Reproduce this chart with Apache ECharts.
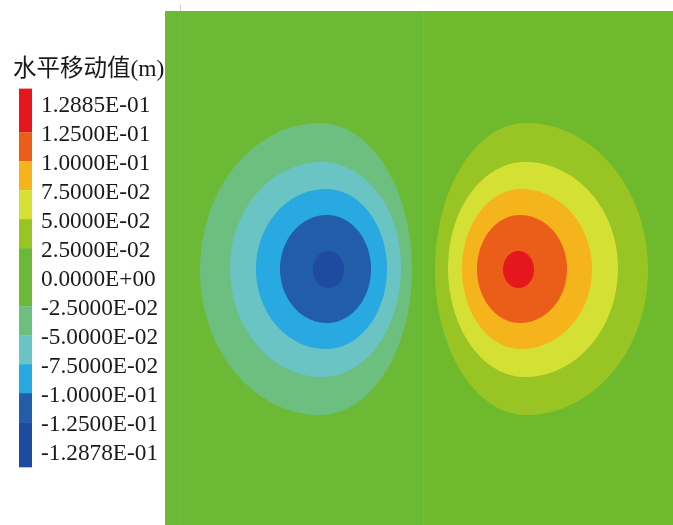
<!DOCTYPE html>
<html><head><meta charset="utf-8">
<script src="https://cdn.jsdelivr.net/npm/echarts@6/dist/echarts.min.js"></script>
<style>html,body{margin:0;padding:0;background:#fff}#c{width:673px;height:525px}</style>
</head><body><div id="c"></div>
<script>
// ---- data ----
const titleText = '水平移动值(m)';
const legendLabels = ['1.2885E-01','1.2500E-01','1.0000E-01','7.5000E-02','5.0000E-02','2.5000E-02','0.0000E+00',
  '-2.5000E-02','-5.0000E-02','-7.5000E-02','-1.0000E-01','-1.2500E-01','-1.2878E-01'];
const legendValues = [0.12885,0.125,0.1,0.075,0.05,0.025,0,-0.025,-0.05,-0.075,-0.1,-0.125,-0.12878];
// colour bands (high, low)
const bandHigh = [0.12885,0.125,0.1,0.075,0.05,0.025,-0.025,-0.05,-0.075,-0.1,-0.125];
const bandLow  = [0.125,0.1,0.075,0.05,0.025,-0.025,-0.05,-0.075,-0.1,-0.125,-0.12878];
// the model's two halves (x extents, in model units 0..100)
const panelStart = [0, 50.8];
const panelEnd   = [50.8, 100];
// contour lines: level, x of left extreme, x of top/bottom extreme, x of right extreme,
// y of bottom extreme, y of left/right extreme, y of top extreme (model units 0..100)
const contourLevel  = [-0.025,-0.05,-0.075,-0.1,-0.125, 0.025,0.05,0.075,0.1,0.125];
const contourLeft   = [6.89,12.80,17.91,22.64,29.13, 53.15,55.71,58.46,61.42,66.54];
const contourPeakX  = [30.51,30.91,31.69,31.89,32.19, 71.06,70.86,70.08,69.88,69.59];
const contourRight  = [48.62,46.46,43.70,40.55,35.24, 95.08,89.17,84.06,79.13,72.64];
const contourBottom = [21.40,28.79,34.24,39.30,46.11, 21.40,28.79,34.24,39.30,46.11];
const contourMidY   = [49.61,50.00,49.81,49.81,49.71, 49.61,50.00,49.81,49.81,49.71];
const contourTop    = [78.21,70.62,65.37,60.31,53.31, 78.21,70.62,65.37,60.31,53.31];

// ---- styling ----
const bandColors = ['#e6161f','#ea5e19','#f6b41c','#d5e035','#98c524','#6cb936','#6dbf7f','#6ac4c4','#28a9e1','#225da9','#1e4b9f'];
const panelColors = ['#6cb936','#6fb92c'];
function colorFor(level){
  const v = level > 0 ? level + 1e-4 : level - 1e-4;
  for (let i=0;i<bandHigh.length;i++){ if (v <= bandHigh[i] && v >= bandLow[i]) return bandColors[i]; }
  return bandColors[5];
}
const contourData = contourLevel.map((l,i)=>[l,contourLeft[i],contourPeakX[i],contourRight[i],contourBottom[i],contourMidY[i],contourTop[i]]);
const panelData = panelStart.map((s,i)=>[s,panelEnd[i]]);
const bandData = bandHigh.map((h,i)=>[i,h,bandLow[i]]);

const serif = "'Liberation Serif','Noto Sans CJK SC',serif";
const chart = echarts.init(document.getElementById('c'), null, {renderer:'canvas'});
chart.setOption({
  animation:false,
  backgroundColor:'#fff',
  title:{text:titleText,left:13,top:58,padding:0,
    textStyle:{fontFamily:serif,fontSize:23.5,fontWeight:'normal',color:'#1a1a1a'}},
  grid:[
    {left:165,top:11,right:0,bottom:0},
    {left:19,top:77,width:13,height:406}
  ],
  xAxis:[
    {type:'value',min:0,max:100,show:false,gridIndex:0},
    {type:'value',min:0,max:1,show:false,gridIndex:1}
  ],
  yAxis:[
    {type:'value',min:0,max:100,show:false,gridIndex:0},
    {type:'value',min:-1,max:13,interval:1,inverse:true,gridIndex:1,position:'right',
     axisLine:{show:false},axisTick:{show:false},splitLine:{show:false},
     axisLabel:{margin:9,fontFamily:serif,fontSize:23.3,color:'#1a1a1a',
       formatter:v=>legendLabels[v]!==undefined?legendLabels[v]:''}}
  ],
  series:[
    {type:'custom',xAxisIndex:0,yAxisIndex:0,data:panelData,encode:{x:[0,1]},silent:true,
     renderItem:(p,api)=>{
       const a=api.coord([api.value(0),100]), b=api.coord([api.value(1),0]);
       return {type:'rect',shape:{x:a[0],y:a[1],width:b[0]-a[0],height:b[1]-a[1]},style:{fill:panelColors[p.dataIndex]}};
     }},
    {type:'custom',xAxisIndex:0,yAxisIndex:0,data:contourData,encode:{x:[1,2,3],y:[4,5,6]},silent:true,
     renderItem:(p,api)=>{
       const xl=api.value(1),xp=api.value(2),xr=api.value(3),yb=api.value(4),ym=api.value(5),yt=api.value(6);
       const pts=[];const N=180;
       for(let k=0;k<N;k++){
         const t=2*Math.PI*k/N,c=Math.cos(t),s=Math.sin(t);
         const x=xp+c*(c>=0?xr-xp:xp-xl);
         const y=ym+s*(s>=0?yt-ym:ym-yb);
         pts.push(api.coord([x,y]));
       }
       return {type:'polygon',shape:{points:pts},style:{fill:colorFor(api.value(0))}};
     }},
    {type:'custom',xAxisIndex:1,yAxisIndex:1,data:bandData,encode:{y:[1,2]},silent:true,
     renderItem:(p,api)=>{
       const i=p.dataIndex;
       const hi=legendValues.indexOf(api.value(1)), lo=legendValues.indexOf(api.value(2));
       const top = i===0 ? hi-0.6 : hi-0.1;
       const bot = i===bandHigh.length-1 ? lo+0.46 : lo-0.1;
       const a=api.coord([0,top]), b=api.coord([1,bot]);
       return {type:'rect',shape:{x:a[0],y:a[1],width:b[0]-a[0],height:b[1]-a[1]},style:{fill:bandColors[i]}};
     }}
  ],
  graphic:[
    {type:'line',shape:{x1:180.5,y1:5,x2:180.5,y2:11},style:{stroke:'#d0d0d0',lineWidth:1},z:100},
    {type:'line',shape:{x1:180.5,y1:11,x2:180.5,y2:525},style:{stroke:'#6fbd45',lineWidth:1},z:100}
  ]
});
</script></body></html>
